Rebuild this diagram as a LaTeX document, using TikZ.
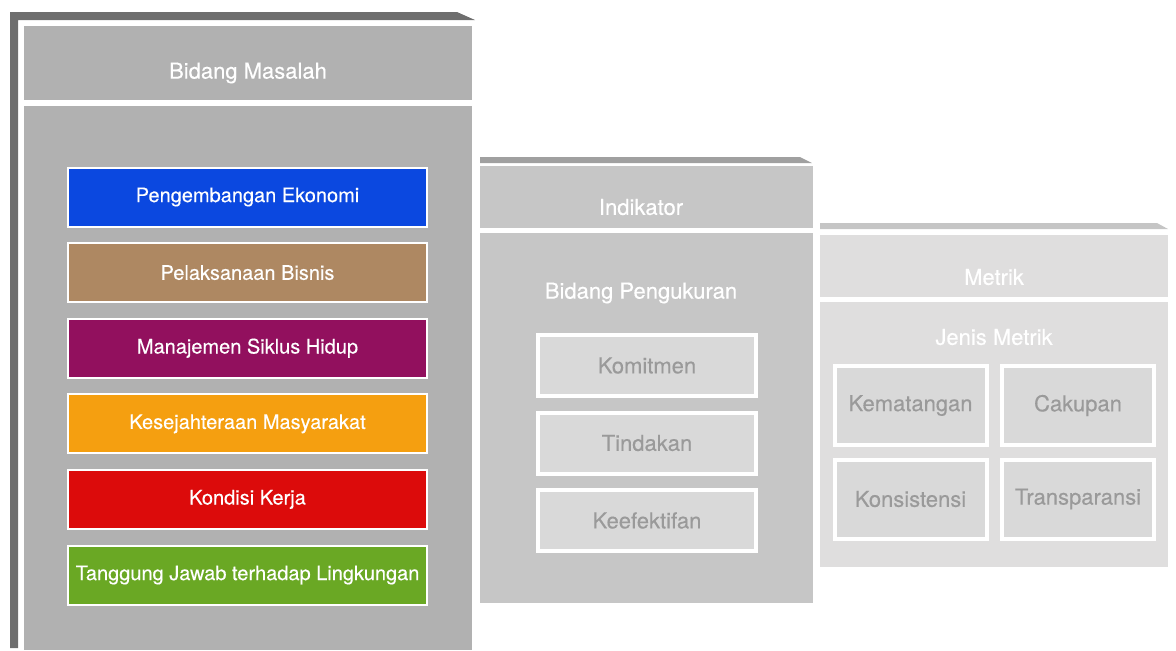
\documentclass[tikz,border=0pt]{standalone}
\usepackage{fontspec}
\setmainfont{TeX Gyre Heros}[FakeBold=0.3]
\usepackage{tikz}
\usetikzlibrary{positioning}
\definecolor{sideA}{HTML}{6E6E6E}
\definecolor{faceA}{HTML}{B1B1B1}
\definecolor{sideB}{HTML}{A0A0A0}
\definecolor{faceB}{HTML}{C6C6C6}
\definecolor{sideC}{HTML}{C5C5C5}
\definecolor{faceC}{HTML}{DFDEDE}
\definecolor{itemgray}{HTML}{D9D9D9}
\definecolor{itemtext}{HTML}{9A9A9A}
\definecolor{ekonomi}{HTML}{0B48E0}
\definecolor{bisnis}{HTML}{AE8862}
\definecolor{siklus}{HTML}{92105E}
\definecolor{masyarakat}{HTML}{F59F10}
\definecolor{kerja}{HTML}{DC0B0B}
\definecolor{lingkungan}{HTML}{6AA824}
\tikzset{
  paneltitle/.style={text=white,inner sep=0pt,font=\fontsize{11}{13}\selectfont},
  areabox/.style={draw=white,line width=1pt,minimum width=179.5pt,minimum height=29.5pt,inner sep=0pt,text=white,font=\fontsize{10}{12}\selectfont},
  itembox/.style={draw=white,fill=itemgray,line width=2pt,inner sep=0pt,text=itemtext,font=\fontsize{11}{13}\selectfont},
}

\begin{document}
\begin{tikzpicture}[x=0.5pt,y=-0.5pt]
  \useasboundingbox (0,0) rectangle (1176,650);
  \fill[sideA] (10,12) -- (457,12) -- (475,20) -- (18,20) -- (18,648) -- (10,648) -- cycle;
  \fill[faceA] (24,26) rectangle (472,100);
  \fill[faceA] (24,106) rectangle (472,650);
  \fill[sideB] (480,157) -- (800,157) -- (812,163) -- (480,163) -- cycle;
  \fill[faceB] (480,166) rectangle (813,228);
  \fill[faceB] (480,233) rectangle (813,603);
  \fill[sideC] (820,223) -- (1157,223) -- (1168,229) -- (820,229) -- cycle;
  \fill[faceC] (820,235) rectangle (1168,297);
  \fill[faceC] (820,302) rectangle (1168,567);

  \node[paneltitle] (masalah) at (248,73) {Bidang Masalah};
  \node[paneltitle] (indikator) at (641,207) {Indikator};
  \node[paneltitle] (pengukuran) at (641,293) {Bidang Pengukuran};
  \node[paneltitle] (metrik) at (994,277) {Metrik};
  \node[paneltitle] (jenis) at (994,337) {Jenis Metrik};

  \node[areabox,fill=ekonomi] (ekonomi) at (247.5,197) {Pengembangan Ekonomi};
  \node[areabox,fill=bisnis,below=7.3pt of ekonomi] (bisnis) {Pelaksanaan Bisnis};
  \node[areabox,fill=siklus,below=7.3pt of bisnis] (siklus) {Manajemen Siklus Hidup};
  \node[areabox,fill=masyarakat,below=7.3pt of siklus] (masyarakat) {Kesejahteraan Masyarakat};
  \node[areabox,fill=kerja,below=7.3pt of masyarakat] (kerja) {Kondisi Kerja};
  \node[areabox,fill=lingkungan,below=7.3pt of kerja] (lingkungan) {Tanggung Jawab terhadap Lingkungan};

  \node[itembox,minimum width=109pt,minimum height=30.5pt] (komitmen) at (647,365.5) {Komitmen};
  \node[itembox,minimum width=109pt,minimum height=30.5pt,below=6.25pt of komitmen] (tindakan) {Tindakan};
  \node[itembox,minimum width=109pt,minimum height=30.5pt,below=6.25pt of tindakan] (keefektifan) {Keefektifan};

  \node[itembox,minimum width=76pt,minimum height=39.5pt] (kematangan) at (910.5,405.5) {Kematangan};
  \node[itembox,minimum width=76pt,minimum height=39.5pt,right=5.75pt of kematangan] (cakupan) {Cakupan};
  \node[itembox,minimum width=76pt,minimum height=39.5pt,below=5.25pt of kematangan] (konsistensi) {Konsistensi};
  \node[itembox,minimum width=76pt,minimum height=39.5pt,below=5.25pt of cakupan] (transparansi) {Transparansi};
\end{tikzpicture}
\end{document}
